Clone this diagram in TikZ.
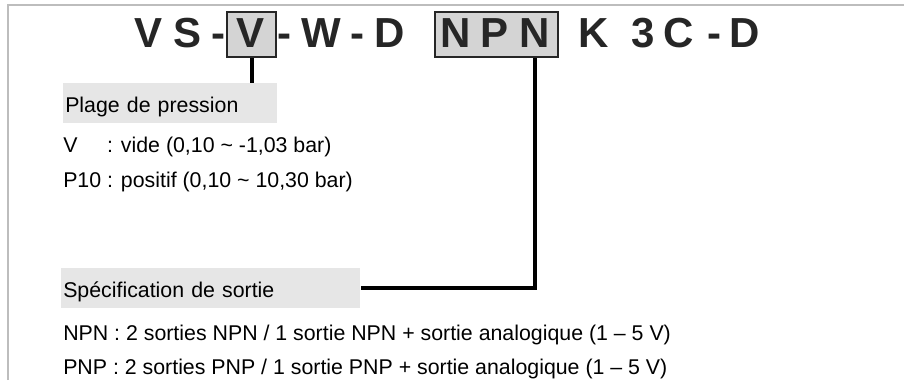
\documentclass[tikz,border=0pt]{standalone}
\usepackage{fontspec}
\setmainfont{Liberation Sans}
\definecolor{framegray}{HTML}{BDBDBD}
\definecolor{boxgray}{HTML}{E6E6E6}
\definecolor{keygray}{HTML}{D4D4D4}
\tikzset{
    titlechar/.style={
        anchor=base,
        inner sep=0,
        text=black!85, % 标题文字颜色
        font=\fontsize{31.5pt}{32pt}\selectfont\bfseries
    },
    keybox/.style={
        rectangle,
        draw=black!85, % 边框颜色
        fill=keygray, % 灰色填充
        line width=2.2pt, % 边框加粗
        inner sep=0
    },
    labelbox/.style={
        rectangle,
        fill=boxgray, % 浅灰色背景
        anchor=north west,
        inner xsep=1.5pt,
        inner ysep=0,
        minimum height=30pt,
        text height=13.5pt,
        text depth=0pt,
        align=left,
        font=\fontsize{16pt}{18pt}\selectfont
    },
    infoline/.style={
        anchor=base west,
        inner sep=0,
        font=\fontsize{16pt}{18pt}\selectfont
    },
    connector/.style={
        line width=3pt, % 连线加粗
        line join=miter
    }
}

\begin{document}
\begin{tikzpicture}[x=0.75pt, y=-0.75pt]
    \useasboundingbox (0,0) rectangle (904,380);
    \draw[framegray, line width=1pt] (8,380) -- (8,5) -- (904,5);
    % code boxes
    \node[keybox, minimum width=36.75pt, minimum height=33.75pt] (vbox) at (251.5,34.5) {};
    \node[keybox, minimum width=92.25pt, minimum height=33.75pt] (npnbox) at (496.5,34.5) {};
    % title letters
    \foreach \x/\c/\n in {149/V/t1, 188/S/t2, 218/-/t3, 251/V/t4, 284/-/t5,
                          321/W/t6, 357/-/t7, 390/D/t8, 456/N/t9, 495/P/t10,
                          535/N/t11, 594/K/t12, 643/3/t13, 679/C/t14, 714/-/t15,
                          745/D/t16}
        \node[titlechar] (\n) at (\x,47) {\c};
    % labels
    \node[labelbox, text width=157.5pt] (plage) at (63,83) {Plage de pression};
    \node[infoline] (vide) at (63,152)
        {\rlap{V}\phantom{P10} : vide (0,10 \textasciitilde{} -1,03 bar)};
    \node[infoline] (positif) at (63,187)
        {P10 : positif (0,10 \textasciitilde{} 10,30 bar)};
    \node[labelbox, text width=221.25pt] (spec) at (61,268) {Spécification de sortie};
    \node[infoline] (npn) at (63,340)
        {NPN : 2 sorties NPN / 1 sortie NPN + sortie analogique (1 \textendash{} 5 V)};
    \node[infoline] (pnp) at (63,374)
        {PNP : 2 sorties PNP / 1 sortie PNP + sortie analogique (1 \textendash{} 5 V)};
    % connectors
    \draw[connector] (vbox.south) -- (vbox.south |- plage.north);
    \draw[connector] (t11 |- npnbox.south) -- (t11 |- spec.east) -- (spec.east);
\end{tikzpicture}
\end{document}
